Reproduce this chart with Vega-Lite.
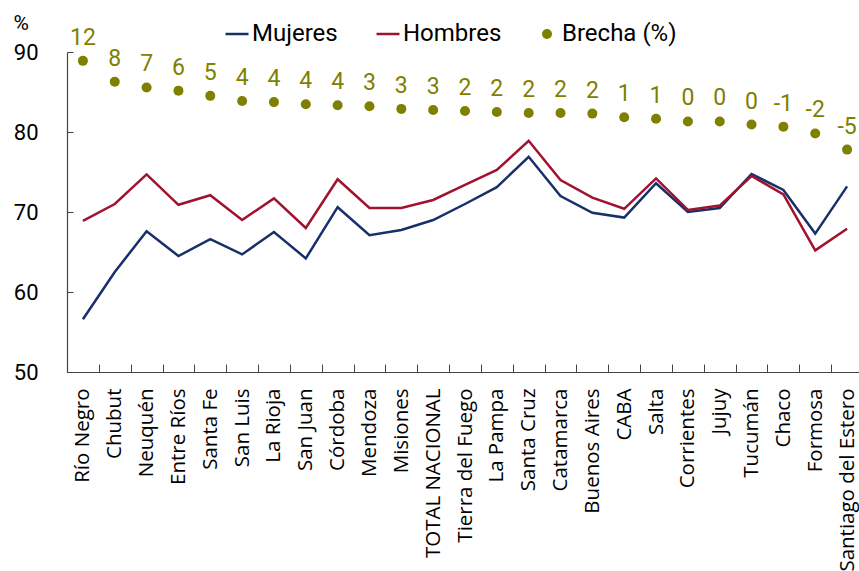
{
  "$schema": "https://vega.github.io/schema/vega-lite/v6.json",
  "width": 796,
  "height": 320,
  "autosize": "none",
  "padding": {"left": 67, "top": 52, "right": 0, "bottom": 199},
  "background": "white",
  "config": {
    "view": {"stroke": null},
    "locale": {"number": {"decimal": ".", "thousands": ",", "grouping": [3], "currency": ["$", ""], "minus": "-"}}
  },
  "data": {
    "values": [
      {"region": "Río Negro", "Mujeres": 56.6, "Hombres": 68.9, "brecha": 12.0},
      {"region": "Chubut", "Mujeres": 62.5, "Hombres": 71.0, "brecha": 8.0},
      {"region": "Neuquén", "Mujeres": 67.6, "Hombres": 74.7, "brecha": 6.9},
      {"region": "Entre Ríos", "Mujeres": 64.5, "Hombres": 70.9, "brecha": 6.3},
      {"region": "Santa Fe", "Mujeres": 66.6, "Hombres": 72.1, "brecha": 5.3},
      {"region": "San Luis", "Mujeres": 64.7, "Hombres": 69.0, "brecha": 4.3},
      {"region": "La Rioja", "Mujeres": 67.5, "Hombres": 71.7, "brecha": 4.1},
      {"region": "San Juan", "Mujeres": 64.2, "Hombres": 68.0, "brecha": 3.7},
      {"region": "Córdoba", "Mujeres": 70.6, "Hombres": 74.1, "brecha": 3.5},
      {"region": "Mendoza", "Mujeres": 67.1, "Hombres": 70.5, "brecha": 3.3},
      {"region": "Misiones", "Mujeres": 67.75, "Hombres": 70.5, "brecha": 2.8},
      {"region": "TOTAL NACIONAL", "Mujeres": 69.0, "Hombres": 71.5, "brecha": 2.6},
      {"region": "Tierra del Fuego", "Mujeres": 71.0, "Hombres": 73.4, "brecha": 2.4},
      {"region": "La Pampa", "Mujeres": 73.1, "Hombres": 75.25, "brecha": 2.2},
      {"region": "Santa Cruz", "Mujeres": 76.9, "Hombres": 78.9, "brecha": 2.0},
      {"region": "Catamarca", "Mujeres": 72.0, "Hombres": 74.0, "brecha": 2.0},
      {"region": "Buenos Aires", "Mujeres": 69.9, "Hombres": 71.8, "brecha": 1.9},
      {"region": "CABA", "Mujeres": 69.3, "Hombres": 70.4, "brecha": 1.2},
      {"region": "Salta", "Mujeres": 73.6, "Hombres": 74.2, "brecha": 0.9},
      {"region": "Corrientes", "Mujeres": 70.0, "Hombres": 70.25, "brecha": 0.4},
      {"region": "Jujuy", "Mujeres": 70.5, "Hombres": 70.8, "brecha": 0.4},
      {"region": "Tucumán", "Mujeres": 74.75, "Hombres": 74.5, "brecha": -0.2},
      {"region": "Chaco", "Mujeres": 72.75, "Hombres": 72.2, "brecha": -0.6},
      {"region": "Formosa", "Mujeres": 67.3, "Hombres": 65.2, "brecha": -1.9},
      {"region": "Santiago del Estero", "Mujeres": 73.2, "Hombres": 67.9, "brecha": -5.0}
    ]
  },
  "encoding": {
    "x": {
      "field": "region", "type": "nominal", "sort": null,
      "scale": {"type": "band", "paddingInner": 0, "paddingOuter": 0},
      "axis": {
        "title": null, "labelAngle": 270, "labelAlign": "right", "labelBaseline": "middle",
        "labelFont": "Open Sans", "labelFontSize": 20.5, "labelColor": "black", "labelLimit": 400,
        "tickBand": "extent", "tickSize": -8, "tickColor": "#444", "tickWidth": 1,
        "domainColor": "#444", "domainWidth": 1.2, "labelPadding": 24, "grid": false
      }
    }
  },
  "layer": [
    {
      "transform": [{"fold": ["Mujeres", "Hombres"], "as": ["serie", "valor"]}],
      "mark": {"type": "line", "strokeWidth": 2.5},
      "encoding": {
        "y": {
          "field": "valor", "type": "quantitative",
          "scale": {"domain": [50, 90], "nice": false, "zero": false},
          "axis": {
            "values": [50, 60, 70, 80, 90], "grid": false,
            "title": "%", "titleAngle": 0, "titleAlign": "left", "titleBaseline": "top",
            "titleX": -54, "titleY": -40, "titleFont": "Roboto", "titleFontSize": 21, "titleFontWeight": "normal", "titleColor": "black",
            "labelFont": "Roboto", "labelFontSize": 22, "labelColor": "black",
            "tickSize": -6, "tickColor": "#444", "domainColor": "#444", "domainWidth": 1.2,
            "labelPadding": 35
          }
        },
        "color": {
          "field": "serie", "type": "nominal",
          "scale": {"domain": ["Mujeres", "Hombres", "Brecha (%)"], "range": ["#17306A", "#A0132F", "#808000"]},
          "legend": {
            "title": null, "orient": "none", "legendX": 158, "legendY": -30, "direction": "horizontal",
            "labelFont": "Roboto", "labelFontSize": 24, "labelColor": "black",
            "symbolStrokeWidth": 2.5, "columnPadding": 33, "labelOffset": 3,
            "encode": {
              "symbols": {
                "update": {
                  "shape": {"signal": "datum.value === 'Brecha (%)' ? 'circle' : 'stroke'"},
                  "size": {"signal": "datum.value === 'Brecha (%)' ? 100 : 529"},
                  "strokeWidth": {"signal": "datum.value === 'Brecha (%)' ? 0 : 2.5"},
                  "fill": {"signal": "datum.value === 'Brecha (%)' ? '#808000' : 'transparent'"},
                  "stroke": {"signal": "datum.value === 'Mujeres' ? '#17306A' : datum.value === 'Hombres' ? '#A0132F' : '#808000'"}
                }
              }
            }
          }
        }
      }
    },
    {
      "mark": {"type": "point", "filled": true, "size": 100, "opacity": 1},
      "encoding": {
        "y": {"field": "brecha", "type": "quantitative", "scale": {"domain": [-47.6, 13.7], "nice": false, "zero": false}, "axis": null},
        "color": {"datum": "Brecha (%)"}
      }
    },
    {
      "mark": {"type": "text", "dy": -23, "font": "Roboto", "fontSize": 23, "baseline": "middle", "align": "center"},
      "encoding": {
        "y": {"field": "brecha", "type": "quantitative", "scale": {"domain": [-47.6, 13.7], "nice": false, "zero": false}, "axis": null},
        "text": {"field": "brecha", "type": "quantitative", "format": ".0f"},
        "color": {"datum": "Brecha (%)"}
      }
    }
  ],
  "resolve": {"scale": {"y": "independent"}}
}
